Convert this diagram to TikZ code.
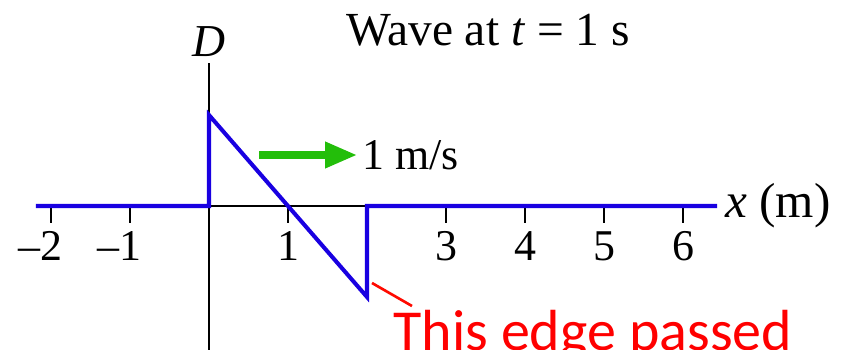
\documentclass[tikz,border=0pt]{standalone}
\usepackage{fontspec}
\setmainfont{Liberation Serif}
\newfontfamily\notefont{Carlito}
\usetikzlibrary{arrows.meta, positioning, calc}

\definecolor{waveblue}{RGB}{25,0,225}
\definecolor{arrowgreen}{RGB}{35,190,10}
\definecolor{notered}{RGB}{255,10,0}

\begin{document}
\begin{tikzpicture}[>=latex, font=\fontsize{25}{30}\selectfont]

\pgfmathsetmacro{\u}{1.58}
\pgfmathsetmacro{\A}{1.82}

\useasboundingbox (-4.18,-2.86) rectangle (12.74,4.12);

\coordinate (O) at (0, 0);
\coordinate (L) at (-3.46, 0);
\coordinate (R) at (10.16, 0);
\coordinate (Top) at (0, 2.86);
\coordinate (Bot) at (0, -2.9);
\coordinate (P) at (0, \A);
\coordinate (Q) at (2*\u, -\A);
\coordinate (E) at (2*\u, 0);

% axes
\draw[black, line width=1.1pt] (L) -- (R);
\draw[black, line width=1.1pt] (Bot) -- (Top);
\node[above=0.12cm of Top, inner sep=0pt, font=\fontsize{26}{30}\selectfont\itshape] (dlabel) {D};

\foreach \i in {-2,-1,1,3,4,5,6} {
  \draw[black, line width=1.1pt] (\i*\u, 0) -- (\i*\u, -0.34);
}
\foreach \i in {-2,-1} {
  \node[anchor=base, inner sep=0pt] (tick\i) at (\i*\u, -1.08) {\llap{\textendash}\pgfmathparse{int(-\i)}\pgfmathresult};
}
\foreach \i in {1,3,4,5,6} {
  \node[anchor=base, inner sep=0pt] (tick\i) at (\i*\u, -1.08) {\i};
}

% the wave
\draw[waveblue, line width=2.3pt, line join=miter] (L) -- (O) -- (P) -- (Q) -- (E) -- (R);

\node[right=0.16cm of R, inner sep=0pt, font=\fontsize{28}{32}\selectfont] (xlabel) {\textit{x} (m)};

% velocity
\coordinate (vs) at (1.0, 1.02);
\coordinate (ve) at (2.96, 1.02);
\draw[arrowgreen, line width=4pt, -{Triangle[length=0.64cm, width=0.5cm]}] (vs) -- (ve);
\node[right=0.1cm of ve, inner sep=0pt] (speed) {1 m/s};

\node[anchor=base, inner sep=0pt, font=\fontsize{27}{32}\selectfont] (title) at (5.58, 3.22) {Wave at \textit{t} = 1 s};

% note
\coordinate (ns) at (3.26, -1.54);
\coordinate (ne) at (4.06, -2.0);
\draw[notered, line width=1.5pt] (ns) -- (ne);
\node[anchor=base west, inner sep=0pt, text=red, font=\notefont\fontsize{33}{40}\selectfont] (note) at (3.68, -2.88) {This edge passed};

\end{tikzpicture}
\end{document}
